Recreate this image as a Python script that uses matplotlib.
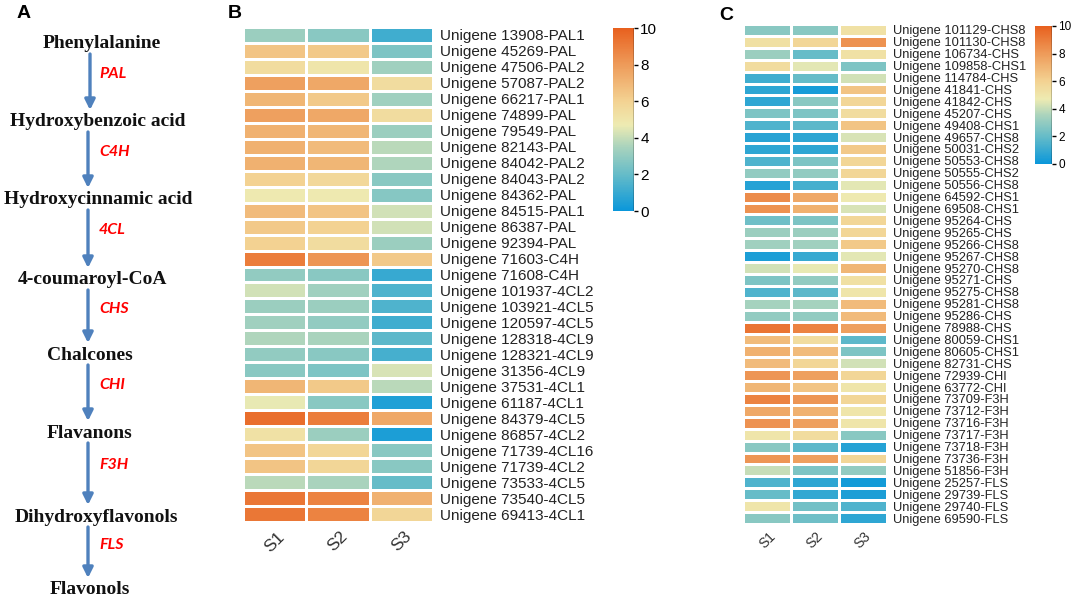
import numpy as np
import matplotlib
matplotlib.use("Agg")
import matplotlib.pyplot as plt
from matplotlib.colors import LinearSegmentedColormap
from matplotlib.lines import Line2D

# ---- data ----
samples = ["S1", "S2", "S3"]

compounds = ["Phenylalanine", "Hydroxybenzoic acid", "Hydroxycinnamic acid",
             "4-coumaroyl-CoA", "Chalcones", "Flavanons",
             "Dihydroxyflavonols", "Flavonols"]
enzymes = ["PAL", "C4H", "4CL", "CHS", "CHI", "F3H", "FLS"]

b_genes = ["Unigene 13908-PAL1", "Unigene 45269-PAL", "Unigene 47506-PAL2",
           "Unigene 57087-PAL2", "Unigene 66217-PAL1", "Unigene 74899-PAL",
           "Unigene 79549-PAL", "Unigene 82143-PAL", "Unigene 84042-PAL2",
           "Unigene 84043-PAL2", "Unigene 84362-PAL", "Unigene 84515-PAL1",
           "Unigene 86387-PAL", "Unigene 92394-PAL", "Unigene 71603-C4H",
           "Unigene 71608-C4H", "Unigene 101937-4CL2", "Unigene 103921-4CL5",
           "Unigene 120597-4CL5", "Unigene 128318-4CL9", "Unigene 128321-4CL9",
           "Unigene 31356-4CL9", "Unigene 37531-4CL1", "Unigene 61187-4CL1",
           "Unigene 84379-4CL5", "Unigene 86857-4CL2", "Unigene 71739-4CL16",
           "Unigene 71739-4CL2", "Unigene 73533-4CL5", "Unigene 73540-4CL5",
           "Unigene 69413-4CL1"]
b_s1 = [3.2, 6.5, 5.5, 7.8, 7.0, 7.8, 7.2, 7.2, 7.2, 6.0, 4.8, 6.8, 6.3, 6.0, 9.0,
        3.0, 4.2, 3.2, 3.3, 3.6, 3.0, 2.8, 7.0, 4.6, 9.5, 5.2, 6.5, 6.5, 3.8, 9.2, 9.2]
b_s2 = [2.8, 6.3, 5.0, 7.5, 6.3, 7.5, 7.0, 6.8, 7.0, 5.7, 4.8, 6.5, 6.0, 5.5, 8.2,
        2.8, 3.3, 3.2, 3.0, 3.5, 2.8, 2.5, 6.3, 2.8, 9.0, 3.2, 5.8, 5.8, 3.5, 8.8, 8.8]
b_s3 = [1.2, 2.5, 3.3, 5.5, 3.3, 5.5, 3.2, 3.8, 3.6, 2.8, 2.7, 4.2, 4.2, 3.2, 6.3,
        1.0, 1.5, 1.5, 1.2, 1.8, 1.3, 4.3, 3.8, 0.5, 7.5, 0.4, 2.8, 2.8, 2.0, 7.2, 5.8]

c_genes = ["Unigene 101129-CHS8", "Unigene 101130-CHS8", "Unigene 106734-CHS",
           "Unigene 109858-CHS1", "Unigene 114784-CHS", "Unigene 41841-CHS",
           "Unigene 41842-CHS", "Unigene 45207-CHS", "Unigene 49408-CHS1",
           "Unigene 49657-CHS8", "Unigene 50031-CHS2", "Unigene 50553-CHS8",
           "Unigene 50555-CHS2", "Unigene 50556-CHS8", "Unigene 64592-CHS1",
           "Unigene 69508-CHS1", "Unigene 95264-CHS", "Unigene 95265-CHS",
           "Unigene 95266-CHS8", "Unigene 95267-CHS8", "Unigene 95270-CHS8",
           "Unigene 95271-CHS", "Unigene 95275-CHS8", "Unigene 95281-CHS8",
           "Unigene 95286-CHS", "Unigene 78988-CHS", "Unigene 80059-CHS1",
           "Unigene 80605-CHS1", "Unigene 82731-CHS", "Unigene 72939-CHI",
           "Unigene 63772-CHI", "Unigene 73709-F3H", "Unigene 73712-F3H",
           "Unigene 73716-F3H", "Unigene 73717-F3H", "Unigene 73718-F3H",
           "Unigene 73736-F3H", "Unigene 51856-F3H", "Unigene 25257-FLS",
           "Unigene 29739-FLS", "Unigene 29740-FLS", "Unigene 69590-FLS"]
c_s1 = [2.8, 5.3, 3.2, 5.5, 1.2, 0.8, 0.8, 2.5, 1.5, 0.7, 0.8, 1.5, 3.0, 0.6, 8.5,
        8.3, 2.2, 3.2, 3.3, 0.4, 4.2, 2.5, 1.5, 3.4, 3.0, 9.3, 6.8, 7.2, 6.8, 8.2,
        7.0, 8.8, 7.5, 8.3, 5.0, 2.8, 8.2, 4.0, 1.5, 2.0, 5.0, 2.8]
c_s2 = [2.8, 5.8, 2.0, 4.5, 2.0, 0.3, 2.8, 2.5, 1.8, 0.8, 0.8, 2.5, 3.0, 1.3, 7.5,
        7.2, 2.5, 3.2, 3.3, 1.0, 4.6, 3.0, 1.8, 3.4, 3.0, 8.8, 5.5, 6.8, 5.8, 7.8,
        6.5, 8.2, 7.2, 7.8, 5.5, 1.8, 7.8, 2.5, 0.8, 0.9, 2.3, 2.2]
c_s3 = [5.2, 8.3, 5.2, 2.5, 4.2, 6.5, 5.8, 5.5, 6.5, 4.3, 6.3, 5.8, 5.8, 4.5, 4.8,
        4.3, 5.8, 5.8, 6.3, 4.5, 7.0, 5.3, 5.0, 6.8, 6.8, 7.8, 1.8, 2.5, 4.2, 5.8,
        5.0, 5.8, 5.0, 5.0, 2.8, 0.6, 5.8, 3.0, 0.2, 0.4, 1.5, 0.8]

# ---- style ----
W, H = 1072, 603
cmap = LinearSegmentedColormap.from_list(
    "expr", [(0.0, "#0a97da"), (0.2, "#66bcc8"), (0.35, "#a9d3bd"),
             (0.47, "#eeebb2"), (0.6, "#f3d292"), (0.8, "#ee9b5a"),
             (1.0, "#e8601e")])
arrow_color = "#4f81bd"
serif = ["Liberation Serif", "DejaVu Serif"]
sans = ["Liberation Sans", "DejaVu Sans"]


def px_axes(fig, x0, y0, x1, y1):
    return fig.add_axes([x0 / W, 1 - y1 / H, (x1 - x0) / W, (y1 - y0) / H])


def heatmap(fig, box, genes, cols, label_size, col_size, pad, cbar_box, cbar_size):
    ax = px_axes(fig, *box)
    data = np.column_stack(cols)
    mesh = ax.pcolormesh(data, cmap=cmap, vmin=0, vmax=10,
                         edgecolors="white", linewidth=1.0)
    ax.set_ylim(len(genes), 0)
    ax.set_yticks(np.arange(len(genes)) + 0.5)
    ax.set_yticklabels(genes, fontsize=label_size, family=sans, color="#222222")
    ax.yaxis.tick_right()
    ax.set_xticks(np.arange(len(samples)) + 0.5)
    ax.set_xticklabels(samples, rotation=45, ha="center", fontsize=col_size,
                       family=sans, color="#333333")
    ax.tick_params(axis="y", length=0, pad=pad)
    ax.tick_params(axis="x", length=0, pad=pad)
    for s in ax.spines.values():
        s.set_visible(False)

    cax = px_axes(fig, *cbar_box)
    cb = fig.colorbar(mesh, cax=cax, ticks=[0, 2, 4, 6, 8, 10])
    cb.outline.set_visible(False)
    cax.add_line(Line2D([1, 1], [0, 1], transform=cax.transAxes,
                        color="black", lw=1))
    cax.tick_params(labelsize=cbar_size, length=3, width=1, color="black",
                    pad=1.5)
    for t in cax.get_yticklabels():
        t.set_family(sans)
    return ax


fig = plt.figure(figsize=(W / 100, H / 100), dpi=100)

# ---- panel A: pathway ----
axa = fig.add_axes([0, 0, 225 / W, 1])
axa.set_xlim(0, 225)
axa.set_ylim(H, 0)
axa.axis("off")

comp_y = [44, 122, 200, 280, 355, 433, 517, 590]
comp_x = [102, 98, 98, 92, 90, 90, 96, 90]
for name, x, y in zip(compounds, comp_x, comp_y):
    axa.text(x, y, name, ha="center", va="center", fontsize=14,
             fontweight="bold", family=serif, color="#111111")

for i, enz in enumerate(enzymes):
    y0 = comp_y[i] + 10
    y1 = comp_y[i + 1] - 12
    ax_x = 90 if i == 0 else 88
    axa.annotate("", xy=(ax_x, y1), xytext=(ax_x, y0),
                 arrowprops=dict(arrowstyle="-|>", color=arrow_color, lw=2.4,
                                 mutation_scale=15, shrinkA=0, shrinkB=0))
    axa.text(99, y0 + 0.35 * (y1 - y0), enz, ha="left", va="center",
             fontsize=11.5, fontweight="bold", fontstyle="italic",
             family=["Lato", "Liberation Sans", "DejaVu Sans"], color="#ff0000")

fig.text(17 / W, 1 - 13 / H, "A", fontsize=14, fontweight="bold",
         family=sans, ha="left", va="center")
fig.text(228 / W, 1 - 13 / H, "B", fontsize=14, fontweight="bold",
         family=sans, ha="left", va="center")
fig.text(719 / W, 1 - 15 / H, "C", fontsize=14, fontweight="bold",
         family=sans, ha="left", va="center")

# ---- panel B ----
heatmap(fig, (243, 27, 433, 522), b_genes, [b_s1, b_s2, b_s3],
        label_size=11, col_size=12.5, pad=5,
        cbar_box=(613, 28, 634, 211), cbar_size=11)

# ---- panel C ----
heatmap(fig, (743, 24, 887, 524), c_genes, [c_s1, c_s2, c_s3],
        label_size=9.3, col_size=10, pad=4,
        cbar_box=(1035, 26, 1052, 164), cbar_size=8.5)

fig.savefig("out.png", dpi=100)
